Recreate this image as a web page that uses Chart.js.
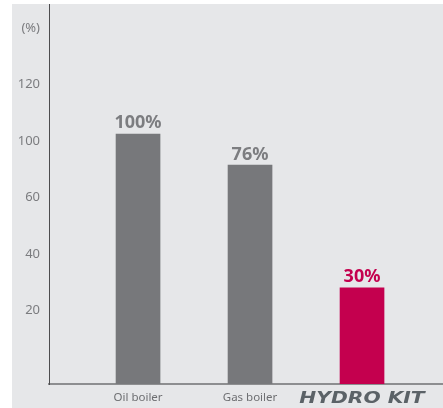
<!DOCTYPE html>
<html>
<head>
<meta charset="utf-8">
<script src="https://cdn.jsdelivr.net/npm/chart.js@4"></script>
<style>
    body { margin: 0; background: #ffffff; }
    #wrap { position: absolute; left: 12px; top: 4px; width: 431px; height: 404px; background: #e6e7e9; }
</style>
</head>
<body>
<div id="wrap"><canvas id="heatChart"></canvas></div>
<script>
// categories and values (bar heights, in axis units)
const categories = ['Oil boiler', 'Gas boiler', 'HYDRO KIT'];
const barValues = [88.5, 77.5, 34];
const barLabels = ['100%', '76%', '30%'];
const barColors = ['#77787b', '#77787b', '#c4004e'];
const labelColors = ['#7c7d80', '#7c7d80', '#c4004e'];

// y ticks as printed on the picture (the "80" step is labelled 100 there)
const yTickValues = [26, 46, 66, 86, 106, 126];
const yTickLabels = ['20', '40', '60', '100', '120', '(%)'];

const barData = categories.map((c, i) => ({ x: i, y: barValues[i] }));

// percent labels above the bars
const valueLabels = {
    id: 'valueLabels',
    afterDatasetsDraw(chart) {
        const ctx = chart.ctx;
        const meta = chart.getDatasetMeta(0);
        ctx.save();
        ctx.font = 'bold 18px "Noto Sans"';
        ctx.textAlign = 'center';
        ctx.textBaseline = 'alphabetic';
        meta.data.forEach((bar, i) => {
            ctx.fillStyle = labelColors[i];
            ctx.fillText(barLabels[i], bar.x, bar.y - 5.5);
        });
        ctx.restore();
    }
};

// the HYDRO KIT category is written as a wide italic logo
const logoLabel = {
    id: 'logoLabel',
    afterDraw(chart) {
        const ctx = chart.ctx;
        const xs = chart.scales.x;
        const x = xs.getPixelForValue(2);
        ctx.save();
        ctx.translate(x, xs.top + 15);
        ctx.scale(1.35, 1);
        ctx.font = 'italic bold 15px "DejaVu Sans"';
        ctx.fillStyle = '#5b6267';
        ctx.textAlign = 'center';
        ctx.textBaseline = 'middle';
        ctx.fillText(categories[2], 0, 0);
        ctx.restore();
    }
};

new Chart(document.getElementById('heatChart'), {
    type: 'bar',
    data: {
        datasets: [{
            data: barData,
            backgroundColor: barColors,
            barThickness: 44,
            borderWidth: 0
        }]
    },
    options: {
        responsive: true,
        maintainAspectRatio: false,
        animation: false,
        layout: { padding: 0 },
        plugins: {
            legend: { display: false },
            tooltip: { enabled: false }
        },
        scales: {
            x: {
                type: 'linear',
                offset: false,
                min: -0.795,
                max: 2.723,
                afterBuildTicks: (scale) => { scale.ticks = categories.map((c, i) => ({ value: i })); },
                afterFit: (scale) => {
                    scale.height = 24;
                    scale.paddingLeft = 0;
                    scale.paddingRight = 0;
                },
                grid: { display: false, drawTicks: false },
                border: { display: true, color: '#8d8e90', width: 2 },
                ticks: {
                    padding: 7,
                    color: '#6d6e71',
                    font: { family: 'Noto Sans', size: 11.5 },
                    callback: (v, i) => (i < 2 ? categories[i] : '')
                }
            },
            y: {
                min: 0,
                max: 134.5,
                afterBuildTicks: (scale) => { scale.ticks = yTickValues.map(v => ({ value: v })); },
                afterFit: (scale) => {
                    scale.width = 37;
                    scale.paddingTop = 0;
                    scale.paddingBottom = 0;
                },
                grid: { display: false, drawTicks: false },
                border: { display: true, color: '#4d4d4f', width: 1 },
                ticks: {
                    padding: 9,
                    color: '#7b7c7f',
                    font: { family: 'Noto Sans', size: 13 },
                    callback: (v, i) => yTickLabels[i]
                }
            }
        }
    },
    plugins: [valueLabels, logoLabel]
});
</script>
</body>
</html>
